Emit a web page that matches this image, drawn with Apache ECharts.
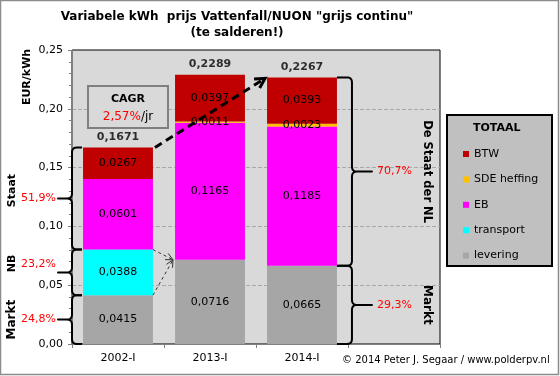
<!DOCTYPE html>
<html lang="nl">
<head>
<meta charset="utf-8">
<title>Variabele kWh prijs Vattenfall/NUON</title>
<script src="https://cdn.jsdelivr.net/npm/echarts@6/dist/echarts.min.js"></script>
<style>
  html, body { margin: 0; padding: 0; background: #fff; }
  #main { width: 560px; height: 376px; }
</style>
</head>
<body>
<div id="main"></div>
<script>
// data (EUR/kWh)
var categories = ['2002-I', '2013-I', '2014-I', ''];
var levering  = [0.0415, 0.0716, 0.0665];
var transport = [0.0388, 0, 0];
var eb        = [0.0601, 0.1165, 0.1185];
var sde       = [0, 0.0011, 0.0023];
var btw       = [0.0267, 0.0397, 0.0393];
var totals    = [0.1671, 0.2289, 0.2267];
var leftShares  = ['51,9%', '23,2%', '24,8%'];   // Staat, NB, Markt in 2002
var leftNames   = ['Staat', 'NB', 'Markt'];
var rightShares = ['70,7%', '29,3%'];            // Staat, Markt in 2014
var rightNames  = ['De Staat der NL', 'Markt'];
var cagr = '2,57%';

var FONT = 'DejaVu Sans';
var chart = echarts.init(document.getElementById('main'));

function fmt(v, d) { return v.toFixed(d).replace('.', ','); }

function barSeries(name, data, color) {
    return {
        name: name, type: 'bar', stack: 'totaal', data: data,
        barCategoryGap: '24%',
        itemStyle: { color: color },
        label: {
            show: true, position: 'inside', color: '#000', textBorderWidth: 0,
            fontFamily: FONT, fontSize: 11,
            formatter: function (p) { return p.value ? fmt(p.value, 4) : ''; }
        }
    };
}

var option = {
    animation: false,
    backgroundColor: '#fff',
    grid: { left: 72, right: 120, top: 50, bottom: 32, show: true,
            backgroundColor: '#d9d9d9', borderColor: '#000', borderWidth: 1 },
    legend: {
        data: ['BTW', 'SDE heffing', 'EB', 'transport', 'levering'],
        orient: 'vertical', left: 463, top: 148, padding: 0,
        itemWidth: 6, itemHeight: 6, itemGap: 13.4, icon: 'rect',
        selectedMode: false, z: 10,
        textStyle: { fontFamily: FONT, fontSize: 11, color: '#000', lineHeight: 12 }
    },
    xAxis: {
        type: 'category', data: categories,
        axisLine: { lineStyle: { color: '#808080' } },
        axisTick: { show: true, length: 4, lineStyle: { color: '#808080' } },
        axisLabel: { color: '#000', fontFamily: FONT, fontSize: 11, margin: 9 }
    },
    yAxis: {
        type: 'value', min: 0, max: 0.25, interval: 0.05,
        axisLine: { show: true, lineStyle: { color: '#808080' } },
        axisTick: { show: true, length: 4, lineStyle: { color: '#808080' } },
        minorTick: { show: true, splitNumber: 5, length: 3, lineStyle: { color: '#808080' } },
        splitLine: { show: true, showMinLine: false, showMaxLine: false,
                     lineStyle: { color: '#a8a8a8', type: 'dashed' } },
        axisLabel: { color: '#000', fontFamily: FONT, fontSize: 11, margin: 9,
                     formatter: function (v) { return fmt(v, 2); } }
    },
    series: [
        barSeries('levering', levering, '#a6a6a6'),
        barSeries('transport', transport, '#00ffff'),
        barSeries('EB', eb, '#ff00ff'),
        barSeries('SDE heffing', sde, '#ffc000'),
        barSeries('BTW', btw, '#c00000'),
        {
            name: 'totaal', type: 'scatter', data: totals, symbolSize: 0,
            label: { show: true, position: 'top', distance: 5, color: '#000',
                     fontFamily: FONT, fontSize: 11, fontWeight: 'bold',
                     formatter: function (p) { return fmt(p.value, 4); } }
        }
    ]
};
chart.setOption(option);

// --- annotations (braces, arrows, boxes) placed through the chart's scales ---
function px(i, v) { return chart.convertToPixel({ gridIndex: 0 }, [i, v]); }

function addQuad(pts, p0, c, p1) {
    for (var t = 0; t <= 1.0001; t += 0.2) {
        var a = (1 - t) * (1 - t), b = 2 * (1 - t) * t, d = t * t;
        pts.push([a * p0[0] + b * c[0] + d * p1[0], a * p0[1] + b * c[1] + d * p1[1]]);
    }
}

// dir = -1: tip points left; +1: tip points right
function bracePoints(xs, y1, y2, dir, hookLen, tipLen) {
    var r = Math.min(5, (y2 - y1) / 4), ym = (y1 + y2) / 2, pts = [];
    pts.push([xs - dir * hookLen, y1]);
    addQuad(pts, [xs - dir * r, y1], [xs, y1], [xs, y1 + r]);
    addQuad(pts, [xs, ym - r], [xs, ym], [xs + dir * r, ym]);
    pts.push([xs + dir * tipLen, ym]);
    addQuad(pts, [xs + dir * r, ym], [xs, ym], [xs, ym + r]);
    addQuad(pts, [xs, y2 - r], [xs, y2], [xs - dir * r, y2]);
    pts.push([xs - dir * hookLen, y2]);
    return pts;
}

function arrowHead(from, to, len, ang) {
    var a = Math.atan2(to[1] - from[1], to[0] - from[0]);
    return [
        [to[0] - len * Math.cos(a - ang), to[1] - len * Math.sin(a - ang)],
        to,
        [to[0] - len * Math.cos(a + ang), to[1] - len * Math.sin(a + ang)]
    ];
}

function text(x, y, str, opts) {
    opts = opts || {};
    return {
        type: 'text', x: x, y: y, z: 60, rotation: opts.rotation || 0,
        style: {
            text: str, fill: opts.color || '#000',
            font: (opts.bold ? 'bold ' : '') + (opts.size || 11) + 'px "' + FONT + '"',
            textAlign: opts.align || 'center', textVerticalAlign: 'middle',
            rich: opts.rich
        }
    };
}

function drawAnnotations() {
    var g = [];
    var x0 = px(0, 0)[0], x1 = px(1, 0)[0], x2 = px(2, 0)[0];
    var step = x1 - x0, bw = step * 0.76;
    var axisX = x0 - step / 2;
    var yOf = function (v) { return px(0, v)[1]; };
    var line = { stroke: '#000', lineWidth: 2, fill: null, lineJoin: 'round' };

    // outer frame
    g.push({ type: 'rect', z: 0, shape: { x: 0.5, y: 0.5, width: 558, height: 374 },
             style: { fill: null, stroke: '#8c8c8c', lineWidth: 1.5 } });

    // title
    g.push(text(237, 17, 'Variabele kWh  prijs Vattenfall/NUON "grijs continu"', { bold: true, size: 12 }));
    g.push(text(237, 33, '(te salderen!)', { bold: true, size: 12 }));

    // y axis name
    g.push(text(27, 77, 'EUR/kWh', { bold: true, rotation: Math.PI / 2 }));

    // left braces for 2002
    var lv = levering[0], lt = levering[0] + transport[0];
    var leftSeg = [[totals[0], lt], [lt, lv], [lv, 0]];
    var nameOff = [-8, -9, 0];
    leftSeg.forEach(function (s, i) {
        var ya = yOf(s[0]), yb = yOf(s[1]), ym = (ya + yb) / 2;
        g.push({ type: 'polyline', z: 50, shape: { points: bracePoints(axisX, ya, yb, -1, 10, 14) }, style: line });
        g.push(text(axisX - 16, ym - (i === 1 ? 8 : 0), leftShares[i], { color: '#ff0000', align: 'right' }));
        g.push(text(12, ym + nameOff[i], leftNames[i], { bold: true, size: i === 2 ? 12 : 11, rotation: Math.PI / 2 }));
    });

    // right braces for 2014
    var xs = x2 + bw / 2 + 15;
    var rightSeg = [[totals[2], levering[2]], [levering[2], 0]];
    rightSeg.forEach(function (s, i) {
        var ya = yOf(s[0]), yb = yOf(s[1]), ym = (ya + yb) / 2;
        g.push({ type: 'polyline', z: 50, shape: { points: bracePoints(xs, ya, yb, 1, 15, 20) }, style: line });
        g.push(text(xs + 25, ym, rightShares[i], { color: '#ff0000', align: 'left' }));
        g.push(text(427, ym, rightNames[i], { bold: true, size: i === 1 ? 12 : 11.5, rotation: -Math.PI / 2 }));
    });

    // CAGR box
    g.push({ type: 'rect', z: 40, shape: { x: 88, y: 86, width: 80, height: 42 },
             style: { fill: '#d9d9d9', stroke: '#808080', lineWidth: 2 } });
    g.push(text(128, 99, 'CAGR', { bold: true }));
    g.push(text(128, 117, '{r|' + cagr + '}/jr', { size: 12,
        rich: { r: { fill: '#ff0000', font: '12px "' + FONT + '"' } } }));

    // thick dashed arrow 2002 -> 2014
    var a0 = [x0 + bw / 2 + 2, yOf(totals[0])], a1 = [x2 - bw / 2 - 2, yOf(totals[2]) + 1];
    g.push({ type: 'line', z: 55, shape: { x1: a0[0], y1: a0[1], x2: a1[0], y2: a1[1] },
             style: { stroke: '#000', lineWidth: 3, lineDash: [8, 5] } });
    g.push({ type: 'polyline', z: 55, shape: { points: arrowHead(a0, a1, 11, 0.5) },
             style: { stroke: '#000', lineWidth: 3, fill: null } });

    // thin dashed arrows transport+levering -> levering 2013
    var t1 = [x1 - bw / 2 - 2, yOf(levering[1])];
    [[x0 + bw / 2, yOf(lt)], [x0 + bw / 2, yOf(lv)]].forEach(function (s) {
        g.push({ type: 'line', z: 55, shape: { x1: s[0], y1: s[1], x2: t1[0], y2: t1[1] },
                 style: { stroke: '#333', lineWidth: 1, lineDash: [3, 3] } });
        g.push({ type: 'polyline', z: 55, shape: { points: arrowHead(s, t1, 8, 0.45) },
                 style: { stroke: '#333', lineWidth: 1, fill: null } });
    });

    // legend box
    g.push({ type: 'rect', z: 1, shape: { x: 447, y: 115, width: 105, height: 151 },
             style: { fill: '#c0c0c0', stroke: '#000', lineWidth: 2 } });
    g.push(text(473, 128, 'TOTAAL', { bold: true, align: 'left' }));

    // copyright
    g.push(text(342, 360, '\u00a9 2014 Peter J. Segaar / www.polderpv.nl', { size: 10, align: 'left' }));

    chart.setOption({ graphic: { elements: g } });
}
drawAnnotations();
</script>
</body>
</html>
